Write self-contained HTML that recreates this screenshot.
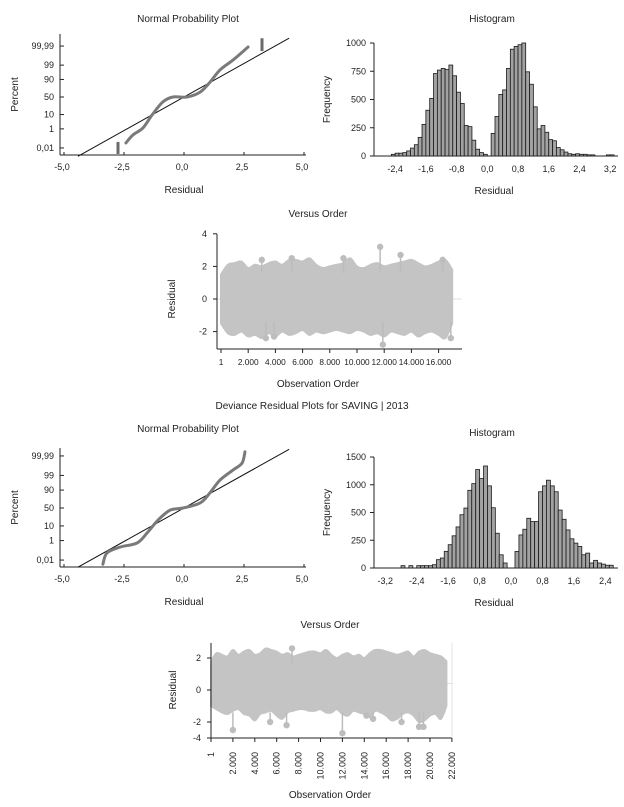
<!DOCTYPE html>
<html><head><meta charset="utf-8"><style>
body{margin:0;background:#fff}
svg text{font-family:"Liberation Sans",sans-serif;fill:#222}
.t{font-size:10px;font-weight:normal}
.k{font-size:9px}
.k8{font-size:8.3px}
.a{font-size:10px;font-weight:normal}
</style></head><body>
<svg id="s" width="624" height="802" viewBox="0 0 624 802" xmlns="http://www.w3.org/2000/svg"></svg>
<script>
// ---------- DATA ----------
const nppTopResidual=[-2.42,-2.13,-1.71,-1.33,-0.88,-0.46,0.12,0.67,1.08,1.5,2.04,2.67];
const nppTopPercent=[0.04,0.28,1.2,9.5,36,50,50,64,86,97.6,99.65,99.987];
const nppTopOutR=[-2.75,3.25];
const nppTopOutLo=[0.0016,99.96];
const nppTopOutHi=[0.052,99.9991];
const nppBotResidual=[-3.38,-3.21,-2.67,-1.96,-1.54,-1.08,-0.58,-0.04,0.67,1.08,1.5,2.04,2.42,2.54];
const nppBotPercent=[0.003,0.066,0.26,0.62,3.7,19.5,44,50,64,86,97.7,99.66,99.934,99.997];
const nppXTicks=[-5,-2.5,0,2.5,5];
const nppXLabels=["-5,0","-2,5","0,0","2,5","5,0"];
const nppYTicks=[0.01,1,10,50,90,99,99.99];
const nppYLabels=["0,01","1","10","50","90","99","99,99"];

const histTopStart=-2.5, histTopWidth=0.1;
const histTopCounts=[15,25,25,30,45,70,100,165,280,405,510,730,760,775,765,805,710,565,465,270,260,140,60,30,15,0,200,350,545,585,775,945,970,985,1000,745,635,435,240,270,210,145,135,75,55,35,20,15,20,15,15,10,10,0,0,0,10,10];
const histTopXTicks=[-2.4,-1.6,-0.8,0,0.8,1.6,2.4,3.2];
const histTopXLabels=["-2,4","-1,6","-0,8","0,0","0,8","1,6","2,4","3,2"];
const histTopYTicks=[0,250,500,750,1000];
const histTopYLabels=["0","250","500","750","1000"];

const histBotStart=-2.8, histBotWidth=0.1;
const histBotCounts=[21,0,21,0,21,21,21,21,30,75,90,150,210,290,370,480,540,700,760,887,806,919,740,543,313,119,45,0,0,149,298,349,448,418,418,687,740,791,740,687,522,439,343,263,224,194,119,134,45,69,45,35,25,25];
const histBotXTicks=[-3.2,-2.4,-1.6,-0.8,0,0.8,1.6,2.4];
const histBotXLabels=["-3,2","-2,4","-1,6","0,8","0,0","0,8","1,6","2,4"];
const histBotYTicks=[0,250,500,750,1000];
const histBotYLabels=["0","250","500","1000","1500"];

const votTopStep=500;
const votTopUpper=[1.5,2.1,2.2,2.3,1.9,2.1,2.0,2.2,2.3,2.1,2.4,2.4,2.3,2.5,2.1,1.9,2.0,2.1,2.2,2.5,2.0,1.9,2.1,2.2,2.0,2.1,2.2,2.3,2.4,2.2,2.0,2.1,2.3,2.4,1.8];
const votTopLower=[-1.5,-2.1,-2.2,-2.0,-2.3,-2.2,-2.4,-2.1,-2.3,-2.0,-2.2,-2.1,-1.9,-2.2,-2.0,-2.1,-2.0,-1.9,-2.0,-2.1,-1.9,-2.0,-2.2,-2.1,-2.3,-2.0,-2.1,-2.2,-2.0,-2.3,-2.1,-2.0,-2.2,-2.4,-1.5];
const votTopOutObs=[11700,13200,9000,5200,3000,11900,3300,3900,16300,16900];
const votTopOutVal=[3.2,2.7,2.5,2.5,2.4,-2.8,-2.4,-2.3,2.4,-2.4];
const votTopXTicks=[1,2000,4000,6000,8000,10000,12000,14000,16000];
const votTopXLabels=["1","2.000","4.000","6.000","8.000","10.000","12.000","14.000","16.000"];
const votTopYTicks=[-2,0,2,4];
const votTopYLabels=["-2","0","2","4"];

const votBotStep=500;
const votBotUpper=[1.8,2.3,2.2,2.1,2.5,2.2,2.4,2.5,2.2,2.3,2.6,2.5,2.4,2.2,2.3,2.1,2.2,2.3,2.4,2.4,2.3,2.5,2.2,2.0,2.2,2.3,2.1,2.2,2.0,2.3,2.5,2.5,2.4,2.3,2.2,2.3,2.4,2.1,2.4,2.5,2.3,2.2,2.1,1.8];
const votBotLower=[-1.0,-1.2,-1.4,-1.5,-1.3,-1.2,-1.5,-1.6,-1.9,-1.5,-1.4,-1.3,-1.6,-1.8,-1.4,-1.3,-1.2,-1.2,-1.3,-1.3,-1.2,-1.4,-1.4,-1.2,-1.5,-1.6,-1.3,-1.4,-1.5,-1.7,-1.3,-1.4,-1.6,-1.9,-1.8,-1.5,-1.4,-1.6,-2.0,-1.9,-1.6,-1.5,-1.8,-1.0];
const votBotOutObs=[2000,5400,6900,7400,12000,14200,14800,19000,19400,17400];
const votBotOutVal=[-2.5,-2.0,-2.2,2.6,-2.7,-1.6,-1.8,-2.3,-2.3,-2.0];
const votBotXTicks=[1,2000,4000,6000,8000,10000,12000,14000,16000,18000,20000,22000];
const votBotXLabels=["1","2.000","4.000","6.000","8.000","10.000","12.000","14.000","16.000","18.000","20.000","22.000"];
const votBotYTicks=[2,0,-2,-3];
const votBotYLabels=["2","0","-2","-4"];

// ---------- HELPERS ----------
const S=document.getElementById('s');
const NS='http://www.w3.org/2000/svg';
function mk(tag,at,parent){const e=document.createElementNS(NS,tag);for(const k in at)e.setAttribute(k,at[k]);(parent||S).appendChild(e);return e;}
function txt(x,y,s,cls,anchor,rot,parent){const e=mk('text',{x:x,y:y,'class':cls,'text-anchor':anchor||'middle'},parent);if(rot)e.setAttribute('transform','rotate('+rot+' '+x+' '+y+')');e.textContent=s;return e;}
function invNorm(p){const a=[-39.6968302866538,220.946098424521,-275.928510446969,138.357751867269,-30.6647980661472,2.50662827745924],b=[-54.4764781683481,161.585836858041,-155.698979859887,66.8013118877197,-13.2806815528857],c=[-0.00778489400243029,-0.322396458041136,-2.40075827716184,-2.54973253934373,4.37466414146497,2.93816398269878],d=[0.00778469570904146,0.32246712907004,2.445134137143,3.75440866190742];const pl=0.02425;let q,r;if(p<pl){q=Math.sqrt(-2*Math.log(p));return(((((c[0]*q+c[1])*q+c[2])*q+c[3])*q+c[4])*q+c[5])/((((d[0]*q+d[1])*q+d[2])*q+d[3])*q+1);}if(p<=1-pl){q=p-0.5;r=q*q;return(((((a[0]*r+a[1])*r+a[2])*r+a[3])*r+a[4])*r+a[5])*q/(((((b[0]*r+b[1])*r+b[2])*r+b[3])*r+b[4])*r+1);}q=Math.sqrt(-2*Math.log(1-p));return-(((((c[0]*q+c[1])*q+c[2])*q+c[3])*q+c[4])*q+c[5])/((((d[0]*q+d[1])*q+d[2])*q+d[3])*q+1);}
function spline(pts,start){let d=start?'M'+pts[0][0]+','+pts[0][1]:'L'+pts[0][0]+','+pts[0][1];for(let i=0;i<pts.length-1;i++){const p0=pts[Math.max(i-1,0)],p1=pts[i],p2=pts[i+1],p3=pts[Math.min(i+2,pts.length-1)];d+='C'+(p1[0]+(p2[0]-p0[0])/6)+','+(p1[1]+(p2[1]-p0[1])/6)+' '+(p2[0]-(p3[0]-p1[0])/6)+','+(p2[1]-(p3[1]-p1[1])/6)+' '+p2[0]+','+p2[1];}return d;}
function line(x1,y1,x2,y2,w,col,parent){return mk('line',{x1:x1,y1:y1,x2:x2,y2:y2,stroke:col||'#222','stroke-width':w||1},parent);}

// ---------- NORMAL PROBABILITY PLOTS ----------
function npp(cfg){
  const g=mk('g',{});
  const X=r=>184+r*24, Y=p=>cfg.y50-invNorm(p/100)*cfg.k;
  txt(188,cfg.titleY,'Normal Probability Plot','t','middle',0,g);
  line(60,cfg.top,60,cfg.bot,1,'#222',g);line(60,cfg.bot,306,cfg.bot,1,'#222',g);
  nppXTicks.forEach((v,i)=>{line(X(v),cfg.bot,X(v),cfg.bot-3,1,'#222',g);txt(X(v)-2,cfg.bot+15,nppXLabels[i],'k','middle',0,g);});
  nppYTicks.forEach((v,i)=>{line(60,Y(v),64,Y(v),1,'#222',g);txt(54,Y(v)+3,nppYLabels[i],'k','end',0,g);});
  txt(184,cfg.bot+38,'Residual','a','middle',0,g);
  txt(18,(cfg.top+cfg.bot)/2,'Percent','a','middle',-90,g);
  const lo=-4.42,hi=4.38;
  const fl=line(X(lo),cfg.y50-lo/cfg.sd*cfg.k,X(hi),cfg.y50-hi/cfg.sd*cfg.k,1,'#111',g);
  
  const pts=cfg.r.map((r,i)=>[X(r),Y(cfg.p[i])]);
  const c=mk('path',{d:spline(pts,true),fill:'none',stroke:'#7a7a7a','stroke-width':3,'stroke-linecap':'round'},g);
  
  (cfg.outR||[]).forEach((r,i)=>{const o=line(X(r),Y(cfg.outLo[i]),X(r),Y(cfg.outHi[i]),3,'#6a6a6a',g);});
}
npp({name:'npp-2012',titleY:22,top:34,bot:155,y50:97,k:13.7,sd:1.02,r:nppTopResidual,p:nppTopPercent,outR:nppTopOutR,outLo:nppTopOutLo,outHi:nppTopOutHi});
npp({name:'npp-2013',titleY:432,top:448,bot:567,y50:508,k:14,sd:1.045,r:nppBotResidual,p:nppBotPercent});

// ---------- HISTOGRAMS ----------
function hist(cfg){
  const g=mk('g',{});
  const X=v=>cfg.x0+(v-cfg.v0)*cfg.ppu, Y=v=>cfg.bot-v/1000*(cfg.bot-cfg.top);
  txt(492,cfg.titleY,'Histogram','t','middle',0,g);
  line(374,cfg.top,374,cfg.bot,1,'#222',g);line(374,cfg.bot,618,cfg.bot,1,'#222',g);
  cfg.yt.forEach((v,i)=>{line(370,Y(v),374,Y(v),1,'#222',g);txt(366,Y(v)+3,cfg.yl[i],'k','end',0,g);});
  cfg.xt.forEach((v,i)=>{txt(X(v),cfg.bot+16,cfg.xl[i],'k','middle',0,g);});
  txt(494,cfg.bot+38,'Residual','a','middle',0,g);
  txt(330,(cfg.top+cfg.bot)/2,'Frequency','a','middle',-90,g);
  cfg.counts.forEach((c,i)=>{if(c<=0)return;const v=cfg.start+i*cfg.w;const x=X(v),w=X(v+cfg.w)-x;
    const b=mk('rect',{x:x,y:Y(c),width:w,height:cfg.bot-Y(c),fill:'#a2a2a2',stroke:'#1a1a1a','stroke-width':0.8},g);
    });
}
hist({name:'histogram-2012',titleY:22,top:43,bot:156,x0:391.3,v0:-2.5,ppu:38.4,start:histTopStart,w:histTopWidth,counts:histTopCounts,xt:histTopXTicks,xl:histTopXLabels,yt:histTopYTicks,yl:histTopYLabels});
hist({name:'histogram-2013',titleY:436,top:457,bot:568,x0:385.3,v0:-3.2,ppu:39.3,start:histBotStart,w:histBotWidth,counts:histBotCounts,xt:histBotXTicks,xl:histBotXLabels,yt:histBotYTicks,yl:histBotYLabels});

// ---------- VERSUS ORDER ----------
function vot(cfg){
  const g=mk('g',{});
  const X=o=>cfg.x0+o*cfg.ppo, Y=v=>cfg.y0-v*cfg.ppv;
  txt(cfg.cx,cfg.titleY,'Versus Order','t','middle',0,g);
  const up=cfg.up.map((v,i)=>[X(i*cfg.step),Y(v)]);
  const lw=cfg.lo.map((v,i)=>[X(i*cfg.step),Y(v)]).reverse();
  line(cfg.axL,Y(cfg.zl),cfg.axR,Y(cfg.zl),0.8,'#d8d8d8',g);
  const band=mk('path',{d:spline(up,true)+spline(lw,false)+'Z',fill:'#c4c4c4',stroke:'#c4c4c4','stroke-width':2},g);
  
  cfg.oo.forEach((o,i)=>{const v=cfg.ov[i];const base=v>0?1.6:-1.4;
    line(X(o),Y(base),X(o),Y(v),1.5,'#bcbcbc',g);
    const d=mk('circle',{cx:X(o),cy:Y(v),r:3.2,fill:'#bdbdbd'},g);});
  line(cfg.axL,cfg.top,cfg.axL,cfg.bot,1,'#222',g);line(cfg.axL,cfg.bot,cfg.axR,cfg.bot,1,'#222',g);
  cfg.yt.forEach((v,i)=>{line(cfg.axL-4,Y(v),cfg.axL,Y(v),1,'#222',g);txt(cfg.axL-10,Y(v)+3,cfg.yl[i],'k','end',0,g);});
  cfg.xt.forEach((v,i)=>{line(X(v),cfg.bot,X(v),cfg.bot+4,1,'#222',g);
    if(cfg.rot)txt(X(v)+3,cfg.bot+14,cfg.xl[i],'k','end',-90,g);else txt(X(v),cfg.bot+16,cfg.xl[i],'k8','middle',0,g);});
  txt(cfg.cx,cfg.xtY,'Observation Order','a','middle',0,g);
  txt(cfg.ytX,Y(0),'Residual','a','middle',-90,g);
}
vot({name:'versus-order-2012',cx:318,titleY:217,x0:221,ppo:0.0136,y0:299,ppv:16.3,zl:0,step:votTopStep,up:votTopUpper,lo:votTopLower,oo:votTopOutObs,ov:votTopOutVal,axL:217,axR:462,top:234,bot:349,xt:votTopXTicks,xl:votTopXLabels,yt:votTopYTicks,yl:votTopYLabels,xtY:387,ytX:175,rot:false});
vot({name:'versus-order-2013',cx:330,titleY:628,x0:211,ppo:0.01095,y0:690,ppv:16,zl:0.4,step:votBotStep,up:votBotUpper,lo:votBotLower,oo:votBotOutObs,ov:votBotOutVal,axL:211,axR:452,top:643,bot:738,xt:votBotXTicks,xl:votBotXLabels,yt:votBotYTicks,yl:votBotYLabels,xtY:798,ytX:176,rot:true});
line(452,643,452,738,0.8,'#ddd');

const st=txt(312,409,'Deviance Residual Plots for SAVING | 2013','t','middle');

</script>
</body></html>
